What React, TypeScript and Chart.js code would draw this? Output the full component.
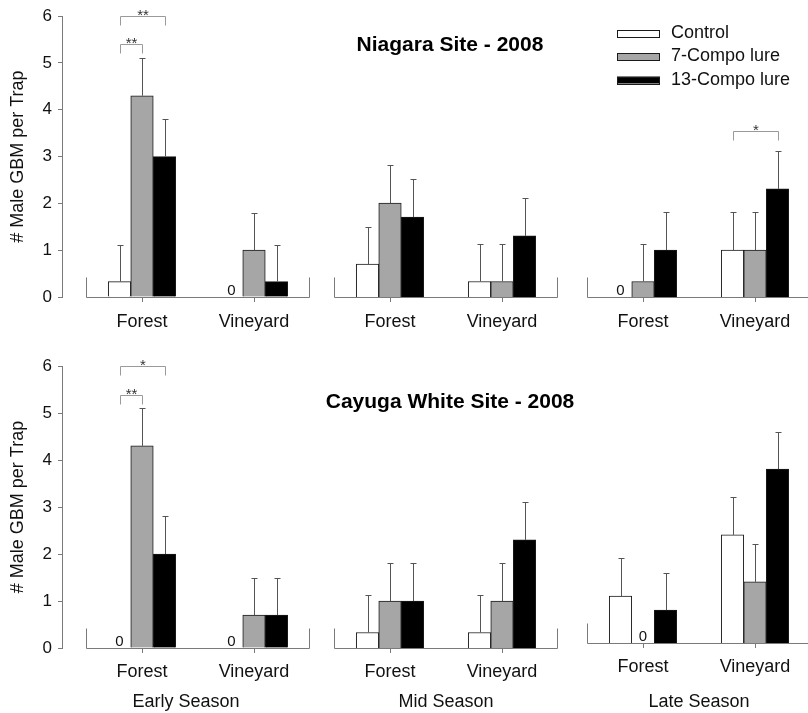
import React, { useEffect, useRef } from "react";
import { Chart, registerables } from "chart.js";

Chart.register(...registerables);

const FONT = "'Liberation Sans', Arial, Helvetica, sans-serif";
Chart.defaults.font.family = FONT;

// ---------- data ----------
const seriesNames = ["Control", "7-Compo lure", "13-Compo lure"];
const habitats = ["Forest", "Vineyard"];
const seasons = ["Early Season", "Mid Season", "Late Season"];
const siteTitles = ["Niagara Site - 2008", "Cayuga White Site - 2008"];
const yTicks = [0, 1, 2, 3, 4, 5, 6];
const yAxisTitle = "# Male GBM per Trap";

// order: Early Forest, Early Vineyard, Mid Forest, Mid Vineyard, Late Forest, Late Vineyard
const niagaraControl = [0.33, 0, 0.7, 0.33, 0, 1.0];
const niagaraControlSE = [0.79, 0, 0.8, 0.79, 0, 0.8];
const niagara7 = [4.3, 1.0, 2.0, 0.33, 0.33, 1.0];
const niagara7SE = [0.8, 0.8, 0.8, 0.79, 0.79, 0.8];
const niagara13 = [3.0, 0.33, 1.7, 1.3, 1.0, 2.3];
const niagara13SE = [0.8, 0.79, 0.8, 0.8, 0.8, 0.8];

const cayugaControl = [0, 0, 0.33, 0.33, 1.0, 2.3];
const cayugaControlSE = [0, 0, 0.8, 0.8, 0.8, 0.8];
const cayuga7 = [4.3, 0.7, 1.0, 1.0, 0, 1.3];
const cayuga7SE = [0.8, 0.8, 0.8, 0.8, 0, 0.8];
const cayuga13 = [2.0, 0.7, 1.0, 2.3, 0.7, 3.7];
const cayuga13SE = [0.8, 0.8, 0.8, 0.8, 0.8, 0.8];

// significance brackets
const bracketSite = [0, 0, 0, 1, 1];
const bracketCategory = [0, 0, 5, 0, 0];
const bracketFrom = [0, 0, 0, 0, 0];
const bracketTo = [1, 2, 2, 1, 2];
const bracketLevel = [5.4, 6.0, 3.53, 5.38, 6.0];
const bracketLabel = ["**", "**", "*", "**", "*"];

const siteMeans = [
  [niagaraControl, niagara7, niagara13],
  [cayugaControl, cayuga7, cayuga13],
];
const siteSE = [
  [niagaraControlSE, niagara7SE, niagara13SE],
  [cayugaControlSE, cayuga7SE, cayuga13SE],
];

// ---------- styles ----------
const BAR_FILL = ["#ffffff", "#a6a6a6", "#000000"];
const BAR_BORDER = "#1a1a1a";
const AXIS_COLOR = "#7a7a7a";
const ERR_COLOR = "#555555";
const BRACKET_COLOR = "#9a9a9a";
const TEXT_COLOR = "#111111";
const PX_PER_UNIT = 112;
const SEG_W = 224;
const STUB = 20;
const LEG = 9;

function panelLayout(row: number, col: number) {
  const top = row === 0 ? 0 : 340;
  const h = row === 0 ? 340 : 373;
  const shift = row === 1 && col === 2 ? 5 : 0;
  const padTop = (row === 0 ? 15 : 26) - shift;
  const axisH = (row === 0 ? 43 : 65) + shift;
  const labelPad = row === 0 ? 9 : 8;
  const yAxisW = col === 0 ? 62 : 0;
  const areaW = col === 0 ? 248 : SEG_W;
  const padLeft = col === 1 ? 20 : 0;
  const padRight = col === 1 ? 25 : 6;
  const left = col === 0 ? 0 : col === 1 ? 314 : 587;
  const w = padLeft + yAxisW + areaW + padRight;
  const xMax = 1.5;
  const xMin = xMax - areaW / PX_PER_UNIT;
  return { top, h, padTop, axisH, labelPad, yAxisW, padLeft, padRight, left, w, xMin, xMax };
}

function makeDecor(row: number, col: number) {
  return {
    id: "decor",
    beforeDatasetsDraw(chart: any) {
      const ctx = chart.ctx;
      const xs = chart.scales.x;
      const ys = chart.scales.y;
      const base = Math.round(ys.getPixelForValue(0)) + 0.5;
      const x0 = Math.round(xs.getPixelForValue(-0.5)) + 0.5;
      const x1 = Math.round(xs.getPixelForValue(1.5)) - 0.5;
      ctx.save();
      ctx.strokeStyle = AXIS_COLOR;
      ctx.lineWidth = 1;
      ctx.beginPath();
      ctx.moveTo(x0, base - STUB);
      ctx.lineTo(x0, base);
      ctx.lineTo(x1, base);
      ctx.lineTo(x1, base - STUB);
      ctx.stroke();
      ctx.restore();
    },
    afterDatasetsDraw(chart: any) {
      const ctx = chart.ctx;
      const ys = chart.scales.y;
      const base = ys.getPixelForValue(0);
      ctx.save();
      // error bars and zero labels
      for (let k = 0; k < seriesNames.length; k++) {
        const meta = chart.getDatasetMeta(k);
        meta.data.forEach((el: any, i: number) => {
          const idx = 2 * col + i;
          const v = siteMeans[row][k][idx];
          const se = siteSE[row][k][idx];
          const cx = Math.round(el.x) + 0.5;
          if (v === 0) {
            ctx.fillStyle = TEXT_COLOR;
            ctx.font = `15px ${FONT}`;
            ctx.textAlign = "center";
            ctx.textBaseline = "alphabetic";
            ctx.fillText("0", el.x, base - 2);
          } else if (se > 0) {
            const yTop = Math.round(ys.getPixelForValue(v + se)) + 0.5;
            ctx.strokeStyle = ERR_COLOR;
            ctx.lineWidth = 1;
            ctx.beginPath();
            ctx.moveTo(cx, el.y);
            ctx.lineTo(cx, yTop);
            ctx.moveTo(cx - 3, yTop);
            ctx.lineTo(cx + 3, yTop);
            ctx.stroke();
          }
        });
      }
      // brackets
      for (let b = 0; b < bracketSite.length; b++) {
        if (bracketSite[b] !== row) continue;
        const cat = bracketCategory[b];
        if (Math.floor(cat / 2) !== col) continue;
        const i = cat % 2;
        const ea = chart.getDatasetMeta(bracketFrom[b]).data[i];
        const eb = chart.getDatasetMeta(bracketTo[b]).data[i];
        const xa = Math.round(ea.x) + 0.5;
        const xb = Math.round(eb.x) + 0.5;
        const yl = Math.round(ys.getPixelForValue(bracketLevel[b])) + 0.5;
        ctx.strokeStyle = BRACKET_COLOR;
        ctx.lineWidth = 1;
        ctx.beginPath();
        ctx.moveTo(xa, yl + LEG);
        ctx.lineTo(xa, yl);
        ctx.lineTo(xb, yl);
        ctx.lineTo(xb, yl + LEG);
        ctx.stroke();
        ctx.fillStyle = "#333333";
        ctx.font = `15px ${FONT}`;
        ctx.textAlign = "center";
        ctx.textBaseline = "alphabetic";
        ctx.fillText(bracketLabel[b], (xa + xb) / 2, yl + 3);
      }
      const area = chart.chartArea;
      // site title
      if (col === 1) {
        ctx.fillStyle = "#000000";
        ctx.font = `bold 21px ${FONT}`;
        ctx.textAlign = "center";
        ctx.textBaseline = "middle";
        ctx.fillText(siteTitles[row], (area.left + area.right) / 2 + 4, row === 0 ? 45 : 62);
      }
      // legend
      if (row === 0 && col === 2) {
        const bx = area.left + 30;
        seriesNames.forEach((name, k) => {
          const cy = 33 + k * 23.5;
          ctx.fillStyle = BAR_FILL[k];
          ctx.fillRect(bx, cy - 3.5, 43, 7);
          ctx.strokeStyle = BAR_BORDER;
          ctx.lineWidth = 1;
          ctx.strokeRect(bx + 0.5, Math.round(cy - 3.5) + 0.5, 42, 7);
          ctx.fillStyle = TEXT_COLOR;
          ctx.font = `18px ${FONT}`;
          ctx.textAlign = "left";
          ctx.textBaseline = "middle";
          ctx.fillText(name, bx + 54, cy);
        });
      }
      ctx.restore();
    },
  };
}

function Panel({ row, col }: { row: number; col: number }) {
  const ref = useRef<HTMLCanvasElement>(null);
  const L = panelLayout(row, col);
  useEffect(() => {
    if (!ref.current) return;
    const chart = new Chart(ref.current, {
      type: "bar",
      data: {
        datasets: seriesNames.map((name, k) => ({
          label: name,
          data: habitats.map((_, i) => ({ x: i, y: siteMeans[row][k][2 * col + i] })),
          backgroundColor: BAR_FILL[k],
          borderColor: BAR_BORDER,
          borderWidth: 1,
          borderSkipped: "start",
          barThickness: 22.5,
        })),
      },
      options: {
        responsive: false,
        animation: false,
        devicePixelRatio: 1,
        events: [],
        layout: { padding: { top: L.padTop, left: L.padLeft, right: L.padRight, bottom: 0 } },
        plugins: { legend: { display: false }, tooltip: { enabled: false } },
        scales: {
          x: {
            type: "linear",
            min: L.xMin,
            max: L.xMax,
            offset: false,
            grid: {
              display: true,
              drawOnChartArea: false,
              drawTicks: true,
              tickLength: 5,
              color: AXIS_COLOR,
              offset: false,
            },
            border: { display: false },
            afterBuildTicks: (axis: any) => {
              axis.ticks = habitats.map((_, i) => ({ value: i }));
            },
            afterFit: (axis: any) => {
              axis.height = L.axisH;
            },
            ticks: {
              autoSkip: false,
              maxRotation: 0,
              minRotation: 0,
              padding: L.labelPad,
              color: TEXT_COLOR,
              font: { size: 18, family: FONT },
              callback: (v: any) => habitats[v] ?? "",
            },
            title: {
              display: row === 1,
              text: seasons[col],
              color: TEXT_COLOR,
              font: { size: 18, family: FONT },
              padding: { top: 0, bottom: 0 },
            },
          },
          y: {
            display: col === 0,
            min: 0,
            max: 6,
            afterBuildTicks: (axis: any) => {
              axis.ticks = yTicks.map((v) => ({ value: v }));
            },
            afterFit: col === 0 ? (axis: any) => { axis.width = L.yAxisW; } : undefined,
            grid: { drawOnChartArea: false, drawTicks: true, tickLength: 4, color: AXIS_COLOR },
            border: { display: true, color: AXIS_COLOR },
            ticks: { padding: 6, color: TEXT_COLOR, font: { size: 17, family: FONT } },
            title: {
              display: true,
              text: yAxisTitle,
              color: TEXT_COLOR,
              font: { size: 18, family: FONT },
              padding: { top: 7, bottom: 0 },
            },
          },
        },
      } as any,
      plugins: [makeDecor(row, col)],
    } as any);
    return () => chart.destroy();
  }, []);
  return (
    <canvas
      ref={ref}
      width={L.w}
      height={L.h}
      style={{ position: "absolute", left: L.left, top: L.top, width: L.w, height: L.h }}
    />
  );
}

export default function App() {
  const panels = [];
  for (let row = 0; row < 2; row++) {
    for (let col = 0; col < 3; col++) {
      panels.push(<Panel key={`${row}-${col}`} row={row} col={col} />);
    }
  }
  return (
    <div
      style={{
        position: "absolute",
        left: 0,
        top: 0,
        width: 808,
        height: 713,
        overflow: "hidden",
        background: "#ffffff",
      }}
    >
      {panels}
    </div>
  );
}
